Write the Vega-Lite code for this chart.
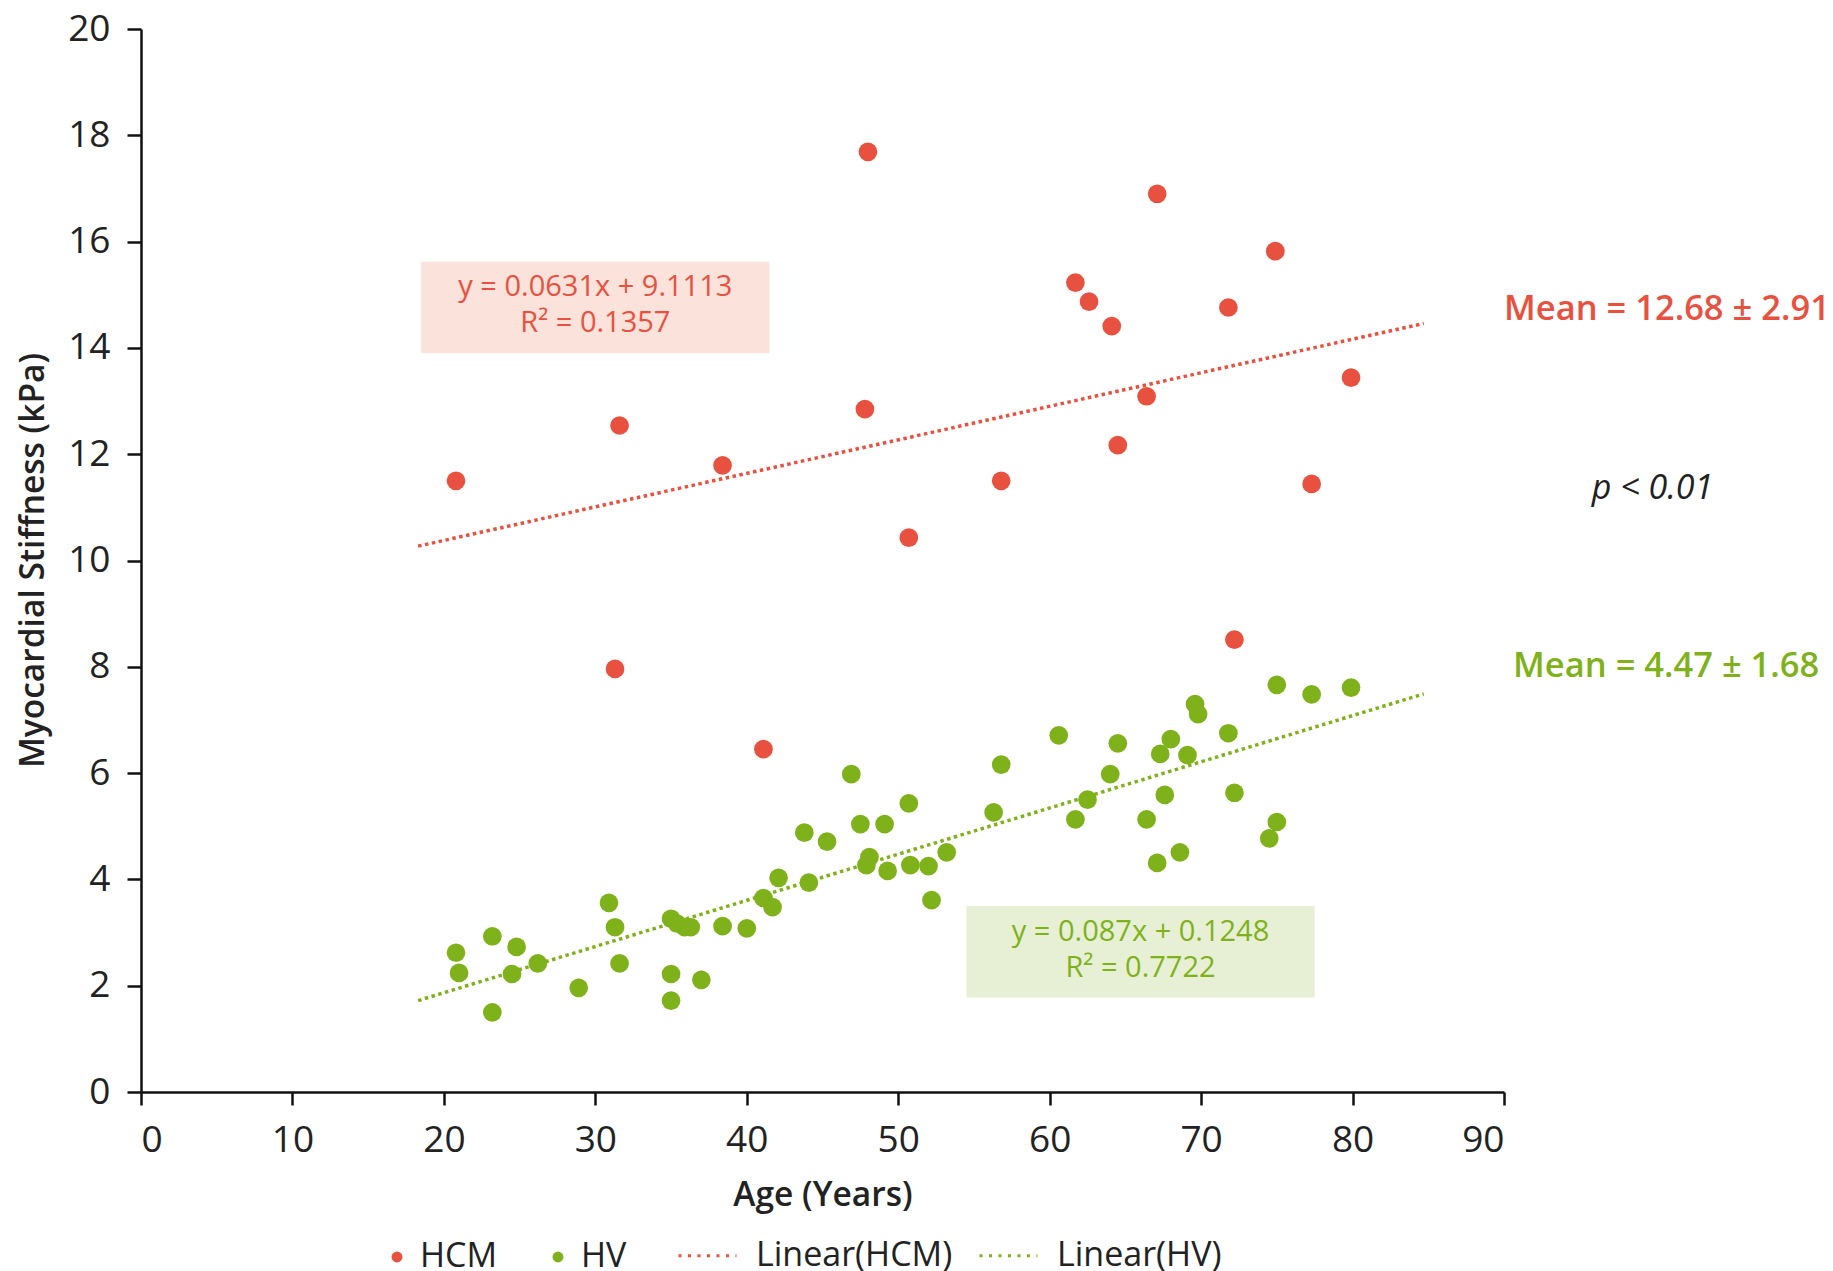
{
  "$schema": "https://vega.github.io/schema/vega-lite/v6.json",
  "width": 1363,
  "height": 1063,
  "autosize": {"type": "none"},
  "padding": {"left": 141, "top": 29, "right": 329, "bottom": 179},
  "background": "white",
  "config": {"view": {"stroke": null}, "font": "Open Sans"},
  "datasets": {
    "pts": [
      {"series": "HCM", "age": 20.8, "stiffness": 11.5},
      {"series": "HCM", "age": 31.6, "stiffness": 12.54},
      {"series": "HCM", "age": 38.4, "stiffness": 11.79},
      {"series": "HCM", "age": 31.3, "stiffness": 7.96},
      {"series": "HCM", "age": 41.1, "stiffness": 6.45},
      {"series": "HCM", "age": 47.8, "stiffness": 12.85},
      {"series": "HCM", "age": 48.0, "stiffness": 17.69},
      {"series": "HCM", "age": 50.7, "stiffness": 10.43},
      {"series": "HCM", "age": 56.8, "stiffness": 11.5},
      {"series": "HCM", "age": 61.7, "stiffness": 15.23},
      {"series": "HCM", "age": 62.6, "stiffness": 14.87},
      {"series": "HCM", "age": 64.1, "stiffness": 14.41},
      {"series": "HCM", "age": 64.5, "stiffness": 12.17},
      {"series": "HCM", "age": 66.4, "stiffness": 13.09},
      {"series": "HCM", "age": 67.1, "stiffness": 16.9},
      {"series": "HCM", "age": 71.8, "stiffness": 14.76},
      {"series": "HCM", "age": 72.2, "stiffness": 8.51},
      {"series": "HCM", "age": 74.9, "stiffness": 15.82},
      {"series": "HCM", "age": 77.3, "stiffness": 11.44},
      {"series": "HCM", "age": 79.9, "stiffness": 13.44},
      {"series": "HV", "age": 20.8, "stiffness": 2.62},
      {"series": "HV", "age": 21.0, "stiffness": 2.24},
      {"series": "HV", "age": 23.2, "stiffness": 2.93},
      {"series": "HV", "age": 23.2, "stiffness": 1.5},
      {"series": "HV", "age": 24.8, "stiffness": 2.73},
      {"series": "HV", "age": 24.5, "stiffness": 2.22},
      {"series": "HV", "age": 26.2, "stiffness": 2.42},
      {"series": "HV", "age": 28.9, "stiffness": 1.96},
      {"series": "HV", "age": 30.9, "stiffness": 3.56},
      {"series": "HV", "age": 31.3, "stiffness": 3.1},
      {"series": "HV", "age": 31.6, "stiffness": 2.42},
      {"series": "HV", "age": 35.0, "stiffness": 3.26},
      {"series": "HV", "age": 35.4, "stiffness": 3.17},
      {"series": "HV", "age": 35.9, "stiffness": 3.1},
      {"series": "HV", "age": 36.3, "stiffness": 3.1},
      {"series": "HV", "age": 35.0, "stiffness": 2.22},
      {"series": "HV", "age": 35.0, "stiffness": 1.72},
      {"series": "HV", "age": 37.0, "stiffness": 2.11},
      {"series": "HV", "age": 38.4, "stiffness": 3.12},
      {"series": "HV", "age": 40.0, "stiffness": 3.08},
      {"series": "HV", "age": 41.1, "stiffness": 3.65},
      {"series": "HV", "age": 41.7, "stiffness": 3.48},
      {"series": "HV", "age": 42.1, "stiffness": 4.03},
      {"series": "HV", "age": 43.8, "stiffness": 4.88},
      {"series": "HV", "age": 44.1, "stiffness": 3.94},
      {"series": "HV", "age": 45.3, "stiffness": 4.71},
      {"series": "HV", "age": 46.9, "stiffness": 5.98},
      {"series": "HV", "age": 47.5, "stiffness": 5.04},
      {"series": "HV", "age": 47.9, "stiffness": 4.27},
      {"series": "HV", "age": 48.1, "stiffness": 4.42},
      {"series": "HV", "age": 49.1, "stiffness": 5.04},
      {"series": "HV", "age": 49.3, "stiffness": 4.16},
      {"series": "HV", "age": 50.7, "stiffness": 5.43},
      {"series": "HV", "age": 50.8, "stiffness": 4.27},
      {"series": "HV", "age": 52.0, "stiffness": 4.25},
      {"series": "HV", "age": 52.2, "stiffness": 3.61},
      {"series": "HV", "age": 53.2, "stiffness": 4.51},
      {"series": "HV", "age": 56.3, "stiffness": 5.26},
      {"series": "HV", "age": 56.8, "stiffness": 6.16},
      {"series": "HV", "age": 60.6, "stiffness": 6.71},
      {"series": "HV", "age": 61.7, "stiffness": 5.13},
      {"series": "HV", "age": 62.5, "stiffness": 5.5},
      {"series": "HV", "age": 64.0, "stiffness": 5.98},
      {"series": "HV", "age": 64.5, "stiffness": 6.56},
      {"series": "HV", "age": 66.4, "stiffness": 5.13},
      {"series": "HV", "age": 67.1, "stiffness": 4.31},
      {"series": "HV", "age": 67.3, "stiffness": 6.36},
      {"series": "HV", "age": 67.6, "stiffness": 5.59},
      {"series": "HV", "age": 68.0, "stiffness": 6.64},
      {"series": "HV", "age": 68.6, "stiffness": 4.51},
      {"series": "HV", "age": 69.1, "stiffness": 6.34},
      {"series": "HV", "age": 69.6, "stiffness": 7.3},
      {"series": "HV", "age": 69.8, "stiffness": 7.11},
      {"series": "HV", "age": 71.8, "stiffness": 6.75},
      {"series": "HV", "age": 72.2, "stiffness": 5.63},
      {"series": "HV", "age": 74.5, "stiffness": 4.77},
      {"series": "HV", "age": 75.0, "stiffness": 7.66},
      {"series": "HV", "age": 75.0, "stiffness": 5.08},
      {"series": "HV", "age": 77.3, "stiffness": 7.48},
      {"series": "HV", "age": 79.9, "stiffness": 7.61}
    ],
    "fits": [
      {"fit": "Linear(HCM)", "age": 18.3, "stiffness": 10.27},
      {"fit": "Linear(HCM)", "age": 84.7, "stiffness": 14.46},
      {"fit": "Linear(HV)", "age": 18.3, "stiffness": 1.72},
      {"fit": "Linear(HV)", "age": 84.7, "stiffness": 7.49}
    ],
    "boxes": [
      {"group": "HCM", "x1": 18.5, "x2": 41.5, "y1": 13.9, "y2": 15.62},
      {"group": "HV", "x1": 54.5, "x2": 77.5, "y1": 1.78, "y2": 3.5}
    ],
    "redText": [
      {"label": "y = 0.0631x + 9.1113", "age": 30.0, "stiffness": 15.14},
      {"label": "R² = 0.1357", "age": 30.0, "stiffness": 14.46}
    ],
    "greenText": [
      {"label": "y = 0.087x + 0.1248", "age": 66.0, "stiffness": 3.01},
      {"label": "R² = 0.7722", "age": 66.0, "stiffness": 2.33}
    ],
    "meanRed": [
      {"label": "Mean = 12.68 ± 2.91", "age": 90.0, "stiffness": 14.72}
    ],
    "meanGreen": [
      {"label": "Mean = 4.47 ± 1.68", "age": 90.6, "stiffness": 8.0}
    ],
    "pval": [
      {"label": "p < 0.01", "age": 95.8, "stiffness": 11.35}
    ]
  },
  "encoding": {
    "x": {
      "field": "age", "type": "quantitative",
      "scale": {"domain": [0, 90], "nice": false, "zero": false},
      "axis": {
        "values": [0, 10, 20, 30, 40, 50, 60, 70, 80, 90],
        "grid": false,
        "domainColor": "#111", "domainWidth": 2.5,
        "tickColor": "#111", "tickWidth": 2.5, "tickSize": 13,
        "labelFontSize": 37, "labelPadding": 17, "labelColor": "#222",
        "title": "Age (Years)", "titleFontSize": 33.5, "titleFontWeight": 600, "titleColor": "#222",
        "titleY": 103, "titleBaseline": "middle"
      }
    },
    "y": {
      "field": "stiffness", "type": "quantitative",
      "scale": {"domain": [0, 20], "nice": false, "zero": false},
      "axis": {
        "values": [0, 2, 4, 6, 8, 10, 12, 14, 16, 18, 20],
        "grid": false,
        "domainColor": "#111", "domainWidth": 2.5,
        "tickColor": "#111", "tickWidth": 2.5, "tickSize": 14,
        "labelFontSize": 37, "labelPadding": 17, "labelColor": "#222",
        "title": "Myocardial Stiffness (kPa)", "titleFontSize": 33.5, "titleFontWeight": 600, "titleColor": "#222",
        "titleX": -108, "titleY": 531, "titleBaseline": "middle", "titleAngle": -90
      }
    }
  },
  "layer": [
    {
      "data": {"name": "boxes"},
      "mark": {"type": "rect", "opacity": 1},
      "encoding": {
        "x": {"field": "x1", "type": "quantitative"},
        "x2": {"field": "x2"},
        "y": {"field": "y1", "type": "quantitative"},
        "y2": {"field": "y2"},
        "fill": {"field": "group", "type": "nominal", "scale": {"range": ["#fbe2da", "#e7efd5"]}, "legend": null}
      }
    },
    {
      "data": {"name": "fits"},
      "mark": {"type": "line", "strokeDash": [3.5, 3.5], "strokeWidth": 3.5},
      "encoding": {
        "stroke": {
          "field": "fit", "type": "nominal",
          "scale": {"range": ["#e8513f", "#7fb21a"]},
          "legend": {
            "orient": "none", "legendX": 536, "legendY": 1196,
            "direction": "horizontal", "columns": 2, "title": null, "padding": 0,
            "labelFontSize": 34, "labelColor": "#222", "labelFont": "Open Sans", "labelLimit": 400,
            "symbolType": "stroke", "symbolSize": 3364, "symbolStrokeWidth": 2.8, "symbolDash": [3, 6.5],
            "labelOffset": 18, "columnPadding": 20
          }
        },
        "detail": {"field": "fit"}
      }
    },
    {
      "data": {"name": "pts"},
      "mark": {"type": "circle", "size": 350, "opacity": 1},
      "encoding": {
        "color": {
          "field": "series", "type": "nominal",
          "scale": {"range": ["#e8513f", "#7fb21a"]},
          "legend": {
            "orient": "none", "legendX": 239, "legendY": 1211,
            "direction": "horizontal", "columns": 2, "title": null, "padding": 0,
            "labelFontSize": 34, "labelColor": "#222", "labelFont": "Open Sans", "labelLimit": 400,
            "symbolType": "circle", "symbolSize": 120, "symbolOpacity": 1,
            "labelOffset": 6, "columnPadding": 43
          }
        }
      }
    },
    {
      "data": {"name": "redText"},
      "mark": {"type": "text", "fontSize": 29, "color": "#e8513f", "align": "center", "baseline": "middle"},
      "encoding": {"text": {"field": "label"}}
    },
    {
      "data": {"name": "greenText"},
      "mark": {"type": "text", "fontSize": 29, "color": "#7fb21a", "align": "center", "baseline": "middle"},
      "encoding": {"text": {"field": "label"}}
    },
    {
      "data": {"name": "meanRed"},
      "mark": {"type": "text", "fontSize": 34.5, "fontWeight": 600, "color": "#e8513f", "align": "left", "baseline": "middle"},
      "encoding": {"text": {"field": "label"}}
    },
    {
      "data": {"name": "meanGreen"},
      "mark": {"type": "text", "fontSize": 34.5, "fontWeight": 600, "color": "#7fb21a", "align": "left", "baseline": "middle"},
      "encoding": {"text": {"field": "label"}}
    },
    {
      "data": {"name": "pval"},
      "mark": {"type": "text", "fontSize": 34, "fontStyle": "italic", "color": "#222", "align": "left", "baseline": "middle"},
      "encoding": {"text": {"field": "label"}}
    }
  ]
}
